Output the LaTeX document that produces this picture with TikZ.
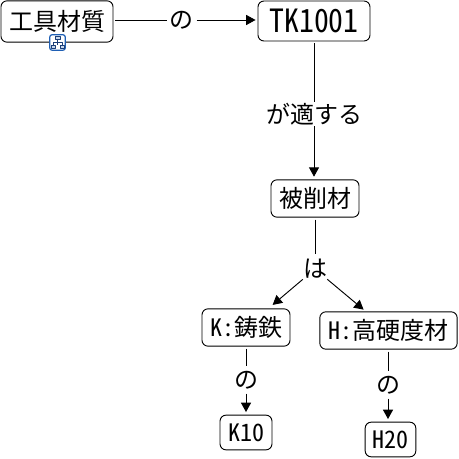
\documentclass[tikz,border=0pt]{standalone}
\usepackage{fontspec}
\usepackage{xcolor}
\setmainfont{Noto Sans CJK JP}[RawFeature=+hwid]
\newfontfamily\gradeface{Noto Sans CJK JP}[RawFeature=+hwid,FakeStretch=0.93]
\usetikzlibrary{arrows.meta,positioning}
\definecolor{mapInk}{HTML}{000000}
\definecolor{mapIcon}{HTML}{1F5FB4}
\definecolor{mapPart}{HTML}{1C3F78}
\tikzset{
  map diagram/.style={x=0.75pt,y=-0.75pt,font=\fontsize{18}{20}\selectfont,
    text=mapInk,line join=round},
  map box/.style={draw=mapInk,fill=white,line width=0.7pt,rounded corners=4.5pt,
    align=center,inner sep=0pt},
  map word/.style={inner sep=0pt,minimum width=13pt,minimum height=13pt},
  map line/.style={draw=mapInk,line width=0.7pt,shorten <=1.5pt},
  map arrow/.style={map line,-{Triangle[length=7pt,width=7.5pt]}},
  map part/.style={draw=mapPart,fill=mapIcon!25,line width=0.5pt}
}
\begin{document}
\begin{tikzpicture}[map diagram]
\useasboundingbox (0,0) rectangle (458,459);
% boxes
\node[map box,minimum width=84pt,minimum height=31pt] (material) at (57,21.5) {工具材質};
\node[map box,minimum width=84pt,minimum height=30pt,font=\gradeface\fontsize{24}{26}\selectfont] (grade) at (314,21) {TK1001};
\node[map box,minimum width=66pt,minimum height=28pt] (work) at (315,198.5) {被削材};
\node[map box,minimum width=66pt,minimum height=28pt] (iron) at (246,327.5) {K:鋳鉄};
\node[map box,minimum width=103pt,minimum height=28pt] (hard) at (388.5,330.5) {H:高硬度材};
\node[map box,minimum width=39pt,minimum height=26pt] (kten) at (246,432.5) {K10};
\node[map box,minimum width=38pt,minimum height=26pt] (htwenty) at (390.5,439.5) {H20};
% words on the links
\node[map word,minimum width=20pt] (ofa) at (181,20) {の};
\node[map word,minimum width=72pt,minimum height=18pt] (suits) at (314,114) {が適する};
\node[map word,minimum height=22pt] (wa) at (315,269) {は};
\node[map word,minimum height=20pt] (ofb) at (246,380) {の};
\node[map word,minimum height=20pt] (ofc) at (388,385) {の};
% links
\draw[map line] (material.east |- ofa) -- (ofa);
\draw[map arrow,shorten >=1.5pt] (ofa) -- (grade.west |- ofa);
\draw[map line] (grade.south -| suits) -- (suits);
\draw[map arrow,shorten >=2pt,shorten <=0pt] (suits) -- (work.north -| suits);
\draw[map line] (work) -- (wa);
\draw[map arrow,shorten >=4pt,shorten <=0pt] (wa) -- (iron);
\draw[map arrow,shorten >=2pt,shorten <=0pt] (wa) -- (hard);
\draw[map line] (iron) -- (ofb);
\draw[map arrow,shorten >=2pt,shorten <=0pt] (ofb) -- (kten);
\draw[map line] (hard.south -| ofc) -- (ofc);
\draw[map arrow,shorten >=2pt,shorten <=0pt] (ofc) -- (htwenty.north -| ofc);
% icon
\node[draw=mapIcon,fill=white,line width=0.9pt,rounded corners=1.5pt,minimum size=11.5pt,inner sep=0pt] (badge) at (57.5,42.5) {};
\draw[draw=mapPart,line width=0.5pt] (57.5,39) -- (57.5,45) (53,45) -- (53,42) -- (62,42) -- (62,45);
\draw[map part] (55,36) rectangle (60,39);
\draw[map part] (51,45) rectangle (55,48);
\draw[map part] (60,45) rectangle (64,48);
\end{tikzpicture}
\end{document}
